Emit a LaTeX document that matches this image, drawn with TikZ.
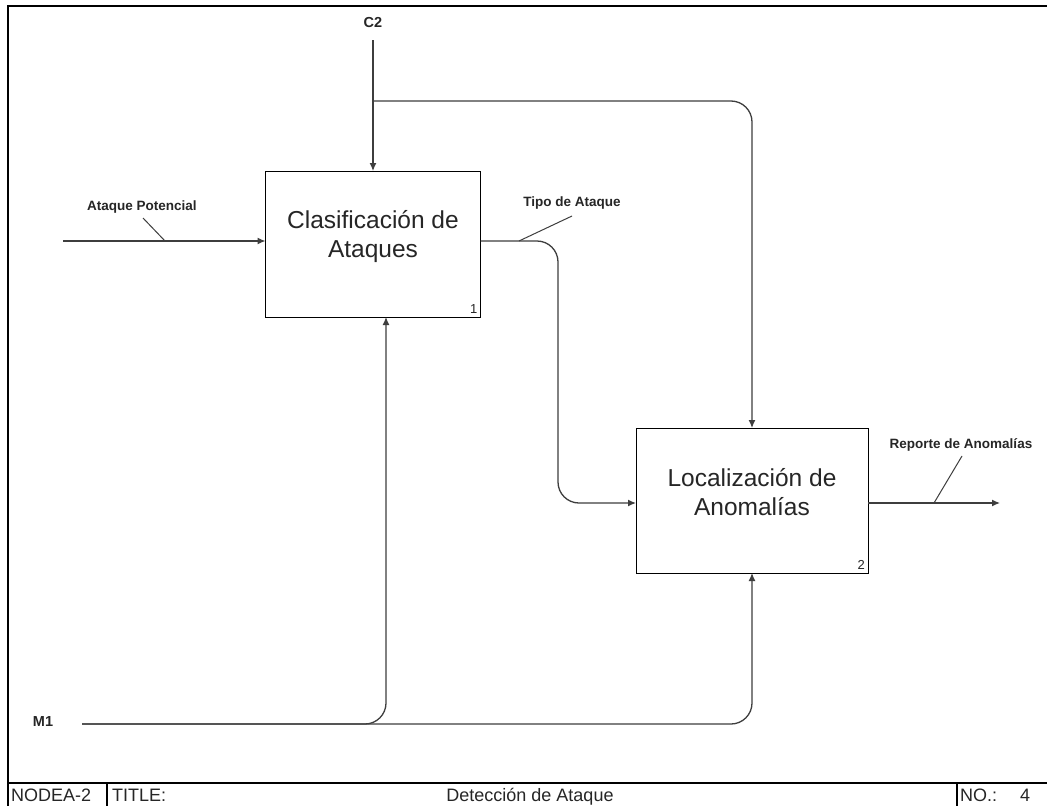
\documentclass[tikz,border=0pt]{standalone}
\usepackage{fontspec}
\setmainfont{Liberation Sans}
\usetikzlibrary{arrows.meta}
\definecolor{linec}{RGB}{62,62,62}
\tikzset{
  actbox/.style={draw=black, line width=1pt, inner sep=0pt, outer sep=0pt},
  boxtext/.style={align=center, font=\fontsize{24.5}{29}\selectfont, text=black!85},
  boxnum/.style={font=\fontsize{13}{13}\selectfont, inner sep=3pt, text=black!85},
  arrowlabel/.style={font=\bfseries\fontsize{13.5}{13.5}\selectfont, inner sep=0pt, text=black!85},
  iolabel/.style={font=\bfseries\fontsize{14.5}{14.5}\selectfont, inner sep=0pt, text=black!85},
  flow/.style={draw=linec, line width=1.3pt, -{Latex[length=8pt,width=7pt]}},
  tickline/.style={draw=linec, line width=1pt},
  frameline/.style={draw=black, line width=2pt},
  bartext/.style={font=\fontsize{18}{18}\selectfont, inner sep=0pt, anchor=base west, text=black!85}
}
\begin{document}
\begin{tikzpicture}[x=1pt, y=-1pt]
  \useasboundingbox (0,0) rectangle (1047,806);
  \fill[white] (0,0) rectangle (1047,806);

  % drawing frame and title bar
  \draw[frameline] (8,812) -- (8,6) -- (1052,6);
  \draw[draw=black, line width=1.3pt] (8,783) -- (1052,783);
  \draw[draw=black, line width=1.2pt] (107,783) -- (107,812);
  \draw[draw=black, line width=1.2pt] (957,783) -- (957,812);
  \node[bartext] (nodeid) at (11,801) {NODEA-2};
  \node[bartext] (titlekey) at (112,801) {TITLE:};
  \node[bartext, anchor=base] (titleval) at (530,801) {Detección de Ataque};
  \node[bartext] (nokey) at (960,801) {NO.:};
  \node[bartext] (noval) at (1020,801) {4};

  % activities
  \node[actbox, minimum width=215pt, minimum height=146pt,
        label={[boxnum, anchor=south east]south east:1}] (b1) at (373,244) {};
  \node[boxtext] (b1t) at (373,237) {Clasificación de\\Ataques};
  \node[actbox, minimum width=232pt, minimum height=145pt,
        label={[boxnum, anchor=south east]south east:2}] (b2) at (752,500.5) {};
  \node[boxtext] (b2t) at (752,492) {Localización de\\Anomalías};

  % input: Ataque Potencial
  \coordinate (apin) at (63,241);
  \coordinate (aptick) at (165,241);
  \draw[flow] (apin) -- ([yshift=3pt]b1.west);
  \node[arrowlabel] (lap) at (142,207) {Ataque Potencial};
  \draw[tickline] (143,218) -- (aptick);

  % control: C2
  \node[iolabel] (c2) at (373,23) {C2};
  \coordinate (c2top) at (373,40);
  \coordinate (c2br) at (373,101);
  \draw[flow] (c2top) -- (b1.north);
  \draw[flow, rounded corners=21pt] (c2br) -| (b2.north);

  % output of 1 into 2: Tipo de Ataque
  \coordinate (tbend) at (558,372);
  \coordinate (tatick) at (519,241);
  \draw[flow, rounded corners=21pt] ([yshift=3pt]b1.east) -| (tbend) |- ([yshift=-2.5pt]b2.west);
  \node[arrowlabel] (lta) at (572,203) {Tipo de Ataque};
  \draw[tickline] (572,216) -- (tatick);

  % mechanism: M1
  \node[iolabel] (m1) at (43,722) {M1};
  \coordinate (m1s) at (82,724);
  \draw[flow, rounded corners=21pt] (m1s) -| ([xshift=13pt]b1.south);
  \draw[flow, rounded corners=21pt] (m1s) -| (b2.south);

  % output: Reporte de Anomalías
  \coordinate (rend) at (1000,503);
  \coordinate (rtick) at (934,503);
  \draw[flow] ([yshift=-2.5pt]b2.east) -- (rend);
  \node[arrowlabel] (lra) at (961,445) {Reporte de Anomalías};
  \draw[tickline] (962,456) -- (rtick);
\end{tikzpicture}
\end{document}
